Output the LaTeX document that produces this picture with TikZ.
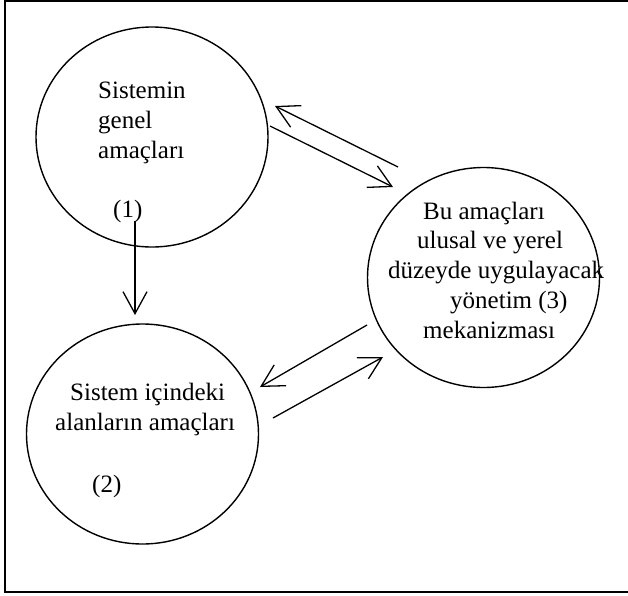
\documentclass[tikz,border=0pt]{standalone}
\usepackage{fontspec}
\setmainfont{Liberation Serif}
\usetikzlibrary{arrows.meta,shapes.geometric}
\begin{document}
\begin{tikzpicture}[x=1pt,y=-1pt,
  circ/.style={draw,line width=1.4pt,ellipse,minimum width=232pt,minimum height=220pt,inner sep=0pt},
  lbl/.style={anchor=base west,inner sep=0pt,font=\fontsize{25}{30}\selectfont},
  conn/.style={line width=1.3pt,-{Straight Barb[length=22pt,width=24pt,line width=1.3pt]}},
  frame/.style={line width=2pt}]
\useasboundingbox (0,0) rectangle (628,595);
% frame (right side is cut off)
\coordinate (fTR) at (628,1);
\coordinate (fTL) at (4.5,1);
\coordinate (fBL) at (4.5,592);
\coordinate (fBR) at (628,592);
\draw[frame] (fTR) -- (fTL) -- (fBL) -- (fBR);
% circles
\node[circ] (c1) at (152,137) {};
\node[circ] (c3) at (483.5,277.5) {};
\node[circ] (c2) at (142.5,434) {};
% texts circle 1
\node[lbl] (t1a) at (98,98) {Sistemin};
\node[lbl] (t1b) at (98,128) {genel};
\node[lbl] (t1c) at (98,158) {amaçları};
\node[lbl] (t1n) at (113,217) {(1)};
% texts circle 3
\node[lbl] (t3a) at (423,219) {Bu amaçları};
\node[lbl] (t3b) at (417,248) {ulusal ve yerel};
\node[lbl] (t3c) at (388,278) {düzeyde uygulayacak};
\node[lbl] (t3d) at (450,308) {yönetim (3)};
\node[lbl] (t3e) at (423,338) {mekanizması};
% texts circle 2
\node[lbl] (t2a) at (70,400) {Sistem içindeki};
\node[lbl] (t2b) at (55,430) {alanların amaçları};
\node[lbl] (t2n) at (92,492) {(2)};
% connector end points
\coordinate (v1) at (135,221);
\coordinate (v2) at (135,315);
\coordinate (a1) at (398,167);
\coordinate (a2) at (275,106);
\coordinate (b1) at (270,126);
\coordinate (b2) at (393,187);
\coordinate (cc1) at (367,325);
\coordinate (cc2) at (260,387);
\coordinate (d1) at (273,418);
\coordinate (d2) at (383,357);
\draw[conn] (v1) -- (v2);
\draw[conn] (a1) -- (a2);
\draw[conn] (b1) -- (b2);
\draw[conn] (cc1) -- (cc2);
\draw[conn] (d1) -- (d2);
\end{tikzpicture}
\end{document}
